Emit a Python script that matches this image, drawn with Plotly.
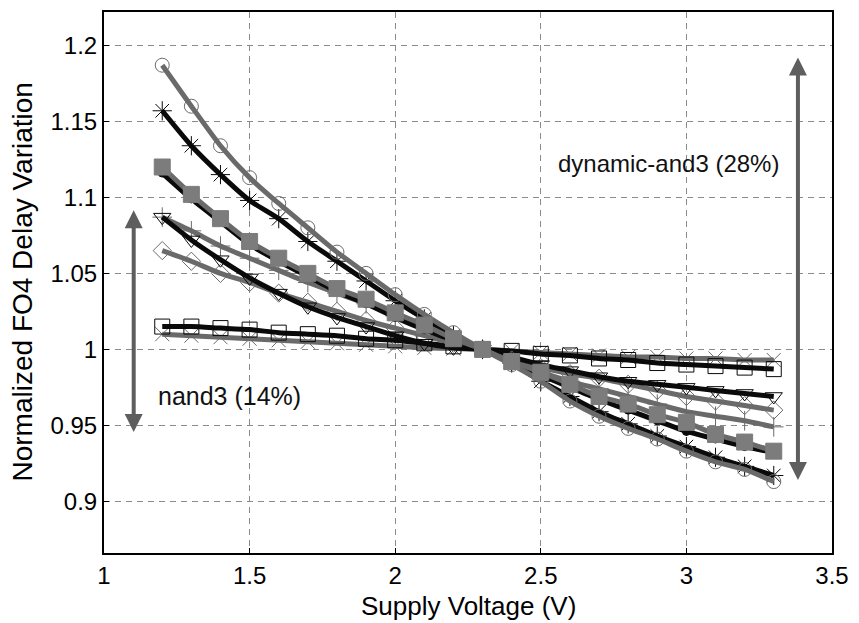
import plotly.graph_objects as go

# Supply voltage sweep (V)
vdd = [1.2, 1.3, 1.4, 1.5, 1.6, 1.7, 1.8, 1.9, 2.0, 2.1, 2.2,
       2.3, 2.4, 2.5, 2.6, 2.7, 2.8, 2.9, 3.0, 3.1, 3.2, 3.3]

# Normalized FO4 delay variation per gate
dyn_circle = [1.187, 1.160, 1.134, 1.113, 1.096, 1.080, 1.064, 1.050, 1.036, 1.023, 1.011,
              1.000, 0.990, 0.979, 0.966, 0.956, 0.948, 0.941, 0.933, 0.926, 0.921, 0.913]
dyn_star = [1.157, 1.134, 1.115, 1.098, 1.086, 1.071, 1.058, 1.045, 1.032, 1.020, 1.009,
            1.000, 0.991, 0.979, 0.969, 0.959, 0.951, 0.943, 0.936, 0.929, 0.923, 0.917]
dyn_dot = [1.116, 1.099, 1.084, 1.069, 1.058, 1.048, 1.038, 1.030, 1.021, 1.013, 1.006,
           1.000, 0.991, 0.983, 0.975, 0.967, 0.960, 0.953, 0.946, 0.941, 0.936, 0.932]
dyn_square = [1.120, 1.102, 1.086, 1.071, 1.060, 1.050, 1.040, 1.033, 1.024, 1.016, 1.007,
              1.000, 0.992, 0.985, 0.977, 0.969, 0.964, 0.957, 0.952, 0.944, 0.939, 0.933]
gate_tri = [1.087, 1.072, 1.059, 1.047, 1.037, 1.028, 1.021, 1.015, 1.009, 1.004, 1.001,
            1.000, 0.995, 0.990, 0.986, 0.982, 0.979, 0.977, 0.975, 0.973, 0.971, 0.969]
gate_plus = [1.087, 1.078, 1.068, 1.060, 1.052, 1.044, 1.037, 1.030, 1.022, 1.015, 1.007,
             1.000, 0.992, 0.985, 0.979, 0.974, 0.969, 0.964, 0.959, 0.956, 0.953, 0.949]
gate_diamond = [1.065, 1.058, 1.050, 1.044, 1.037, 1.031, 1.025, 1.019, 1.014, 1.009, 1.004,
                1.000, 0.993, 0.988, 0.984, 0.981, 0.977, 0.973, 0.969, 0.966, 0.963, 0.960]
nand_square = [1.015, 1.015, 1.014, 1.013, 1.011, 1.010, 1.009, 1.007, 1.006, 1.004, 1.002,
               1.000, 0.999, 0.997, 0.996, 0.994, 0.993, 0.991, 0.990, 0.989, 0.988, 0.987]
nand_x = [1.010, 1.009, 1.008, 1.007, 1.006, 1.005, 1.004, 1.003, 1.002, 1.001, 1.0005,
          1.000, 0.999, 0.998, 0.997, 0.996, 0.995, 0.995, 0.994, 0.994, 0.993, 0.993]

x_ticks = [1, 1.5, 2, 2.5, 3, 3.5]
y_ticks = [0.9, 0.95, 1.0, 1.05, 1.1, 1.15, 1.2]
x_tick_text = ["1", "1.5", "2", "2.5", "3", "3.5"]
y_tick_text = ["0.9", "0.95", "1", "1.05", "1.1", "1.15", "1.2"]

GRAY = "#6a6a6a"
BLACK = "#0a0a0a"

series = [
    # values, line colour, marker symbol, marker size, marker fill, marker outline
    (nand_x, GRAY, "x-thin-open", 14, None, "#7a7a7a"),
    (nand_square, BLACK, "square-open", 15, None, BLACK),
    (gate_diamond, GRAY, "diamond-open", 14, None, "#333333"),
    (gate_plus, GRAY, "cross-thin-open", 14, None, "#444444"),
    (gate_tri, BLACK, "triangle-down-open", 15, None, BLACK),
    (dyn_dot, BLACK, "circle", 8, BLACK, BLACK),
    (dyn_star, BLACK, "asterisk-open", 16, None, "#222222"),
    (dyn_circle, GRAY, "circle-open", 14, None, "#666666"),
    (dyn_square, GRAY, "square", 16, "#7c7c7c", "#7c7c7c"),
]

fig = go.Figure()
for vals, lc, sym, sz, fill, outline in series:
    marker = dict(symbol=sym, size=sz, line=dict(color=outline, width=1))
    if fill is not None:
        marker["color"] = fill
    fig.add_trace(go.Scatter(
        x=vdd, y=vals, mode="lines+markers",
        line=dict(color=lc, width=5, shape="spline", smoothing=0.6),
        marker=marker, showlegend=False, hoverinfo="skip",
    ))

# Spread arrows and labels
fig.add_annotation(x=3.383, y=0.914, ax=3.383, ay=1.193, xref="x", yref="y",
                   axref="x", ayref="y", text="", showarrow=True,
                   arrowside="end+start", arrowhead=2, arrowsize=0.9,
                   arrowwidth=4, arrowcolor="#5e5e5e")
fig.add_annotation(x=1.102, y=0.9456, ax=1.102, ay=1.0925, xref="x", yref="y",
                   axref="x", ayref="y", text="", showarrow=True,
                   arrowside="end+start", arrowhead=2, arrowsize=0.9,
                   arrowwidth=4, arrowcolor="#5e5e5e")
fig.add_annotation(x=2.94, y=1.1226, xref="x", yref="y", text="dynamic-and3 (28%)",
                   showarrow=False, font=dict(size=24, color="#111111"))
fig.add_annotation(x=1.43, y=0.969, xref="x", yref="y", text="nand3 (14%)",
                   showarrow=False, font=dict(size=25, color="#111111"))

# Axis titles placed relative to the plot frame
fig.add_annotation(x=0.5, y=0, xref="paper", yref="paper", yshift=-53,
                   xanchor="center", yanchor="middle",
                   text="Supply Voltage (V)", showarrow=False,
                   font=dict(size=26, color="black"))
fig.add_annotation(x=0, y=0.5, xref="paper", yref="paper", xshift=-82,
                   xanchor="center", yanchor="middle",
                   text="Normalized FO4 Delay Variation", textangle=-90,
                   showarrow=False, font=dict(size=28, color="black"))

axis_common = dict(
    showline=True, linecolor="black", linewidth=2, mirror=True,
    showgrid=True, gridcolor="#8a8a8a", gridwidth=1, griddash="6px,5px",
    ticks="inside", ticklen=5, tickcolor="black", tickwidth=1,
    zeroline=False, tickfont=dict(size=24, color="black"),
    ticklabeloverflow="allow",
)

fig.update_layout(
    width=859, height=623,
    margin=dict(l=104, r=16, t=10, b=70),
    paper_bgcolor="white", plot_bgcolor="white",
    font=dict(family="Liberation Sans, Arial, sans-serif", color="black"),
    xaxis=dict(range=[1, 3.5], tickvals=x_ticks, ticktext=x_tick_text, **axis_common),
    yaxis=dict(range=[0.866, 1.222], tickvals=y_ticks, ticktext=y_tick_text, **axis_common),
)

fig.write_html("out.html")
